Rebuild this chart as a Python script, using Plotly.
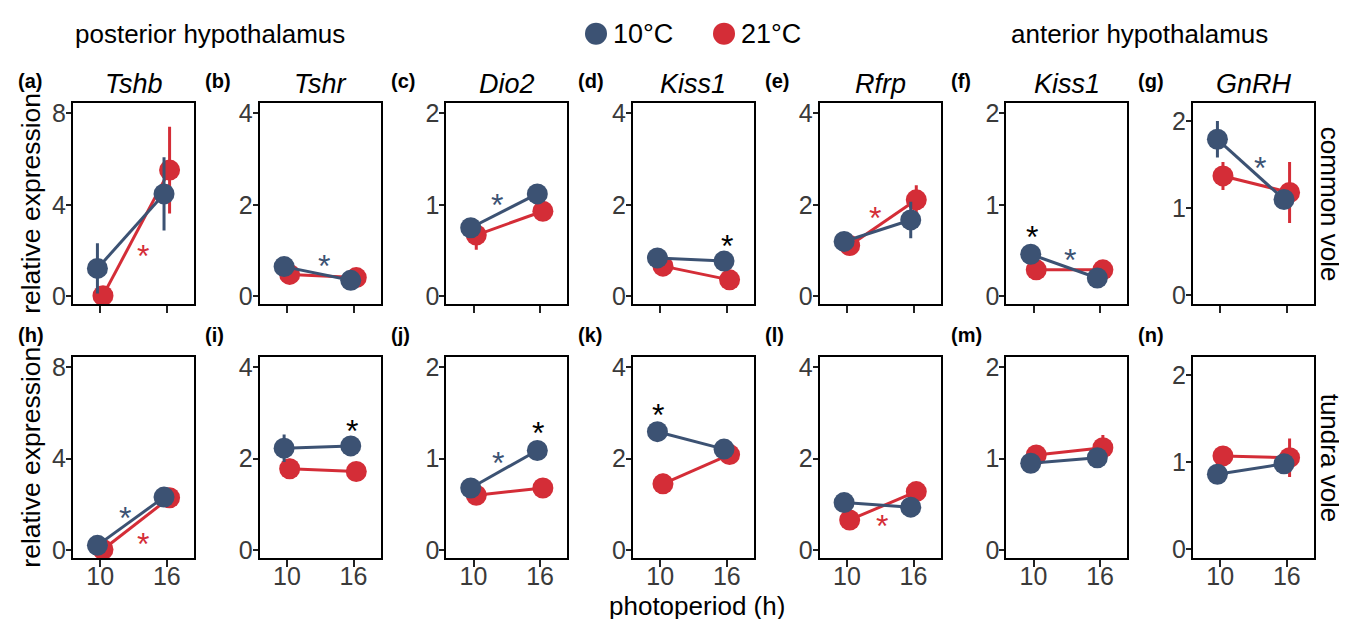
import plotly.graph_objects as go

# ---------------- data ----------------
photoperiod = [10, 16]
genes = ["Tshb", "Tshr", "Dio2", "Kiss1", "Rfrp", "Kiss1", "GnRH"]
letters_common = ["(a)", "(b)", "(c)", "(d)", "(e)", "(f)", "(g)"]
letters_tundra = ["(h)", "(i)", "(j)", "(k)", "(l)", "(m)", "(n)"]
species = ["common vole", "tundra vole"]
temps = ["10°C", "21°C"]

# means at 10 h and 16 h photoperiod
common_10C_mean = [[1.22, 4.48], [0.65, 0.35], [0.75, 1.12], [0.84, 0.77], [1.20, 1.67], [0.46, 0.20], [1.79, 1.10]]
common_10C_err = [[1.10, 1.60], [0.10, 0.08], [0.10, 0.05], [0.10, 0.10], [0.10, 0.40], [0.05, 0.05], [0.21, 0.10]]
common_21C_mean = [[0.03, 5.52], [0.48, 0.41], [0.67, 0.93], [0.66, 0.36], [1.11, 2.11], [0.29, 0.29], [1.37, 1.18]]
common_21C_err = [[0.20, 1.90], [0.10, 0.08], [0.16, 0.05], [0.10, 0.10], [0.10, 0.32], [0.03, 0.05], [0.16, 0.35]]

tundra_10C_mean = [[0.21, 2.32], [2.23, 2.28], [0.68, 1.09], [2.59, 2.21], [1.04, 0.94], [0.95, 1.01], [0.86, 0.98]]
tundra_10C_err = [[0.20, 0.20], [0.30, 0.10], [0.05, 0.05], [0.10, 0.10], [0.10, 0.10], [0.05, 0.05], [0.05, 0.10]]
tundra_21C_mean = [[0.03, 2.29], [1.78, 1.72], [0.60, 0.68], [1.45, 2.09], [0.66, 1.28], [1.04, 1.12], [1.07, 1.05]]
tundra_21C_err = [[0.20, 0.30], [0.22, 0.10], [0.07, 0.03], [0.22, 0.15], [0.10, 0.10], [0.10, 0.14], [0.06, 0.22]]

# significance stars: (panel index 0-13, x, y, group)
stars = [
    (0, 13.9, 2.11, "21"), (1, 13.3, 0.84, "10"), (2, 12.1, 1.09, "10"),
    (3, 16.0, 1.27, "both"), (4, 12.5, 1.88, "21"),
    (5, 9.85, 0.74, "both"), (5, 13.3, 0.49, "10"), (6, 13.6, 1.55, "10"),
    (7, 12.2, 1.75, "10"), (7, 13.9, 0.60, "21"), (8, 15.9, 2.78, "both"),
    (9, 12.2, 1.04, "10"), (9, 15.8, 1.37, "both"), (10, 9.8, 3.13, "both"),
    (11, 13.2, 0.70, "21"),
]

# y-axis tick values per column
col_ticks = [[0, 4, 8], [0, 2, 4], [0, 1, 2], [0, 2, 4], [0, 2, 4], [0, 1, 2], [0, 1, 2]]

# ---------------- styling ----------------
BLUE = "#3C5273"
RED = "#D42D37"
STAR_COL = {"10": BLUE, "21": RED, "both": "black"}
FONT = "Liberation Sans, Arial, Helvetica, sans-serif"
W, H = 1347, 619
DODGE = 0.25

panel_left = [65, 251.7, 438.3, 625, 811.7, 998.3, 1185]
panel_w = 121
row_top = [93, 351]
row_h = 204


def yrange(ticks, col):
    top = ticks[-1]
    if col == 6:
        return [-0.1, 2.2]
    return [-0.043 * top, 1.054 * top]


fig = go.Figure()
annotations = []
layout_axes = {}

rows = [
    (common_10C_mean, common_10C_err, common_21C_mean, common_21C_err),
    (tundra_10C_mean, tundra_10C_err, tundra_21C_mean, tundra_21C_err),
]

for r in range(2):
    m10, e10, m21, e21 = rows[r]
    for c in range(7):
        k = r * 7 + c + 1
        xa = "x" if k == 1 else f"x{k}"
        ya = "y" if k == 1 else f"y{k}"
        # red first so blue points sit on top
        for mean, err, col, off in [(m21[c], e21[c], RED, DODGE), (m10[c], e10[c], BLUE, -DODGE)]:
            fig.add_trace(go.Scatter(
                x=[p + off for p in photoperiod], y=mean,
                mode="lines+markers",
                line=dict(color=col, width=3),
                marker=dict(color=col, size=21),
                error_y=dict(type="data", array=err, color=col, thickness=3, width=0),
                xaxis=xa, yaxis=ya, showlegend=False, hoverinfo="skip",
            ))
        x0 = panel_left[c] / W
        x1 = (panel_left[c] + panel_w) / W
        y1 = 1 - row_top[r] / H
        y0 = 1 - (row_top[r] + row_h) / H
        ticks = col_ticks[c]
        layout_axes["xaxis" if k == 1 else f"xaxis{k}"] = dict(
            domain=[x0, x1], anchor=ya, range=[7.55, 18.45],
            tickvals=photoperiod, ticktext=[str(p) for p in photoperiod],
            showticklabels=(r == 1), ticks="outside", ticklen=7, tickwidth=2,
            tickcolor="#222", showline=True, linecolor="black", linewidth=2,
            mirror=True, showgrid=False, zeroline=False, ticklabelstandoff=-12,
            tickfont=dict(size=25, color="#3A3A3A", family=FONT),
        )
        layout_axes["yaxis" if k == 1 else f"yaxis{k}"] = dict(
            domain=[y0, y1], anchor=xa, range=yrange(ticks, c),
            tickvals=ticks, ticks="outside", ticklen=5, tickwidth=2,
            tickcolor="#222", showline=True, linecolor="black", linewidth=2,
            mirror=True, showgrid=False, zeroline=False, ticklabelstandoff=-5,
            tickfont=dict(size=25, color="#3A3A3A", family=FONT),
        )
        # panel letter
        letters = letters_common if r == 0 else letters_tundra
        annotations.append(dict(
            text=f"<b>{letters[c]}</b>", x=(panel_left[c] - 57) / W, y=1 - (row_top[r] - 23) / H,
            xref="paper", yref="paper", xanchor="left", yanchor="middle", showarrow=False,
            font=dict(size=20, color="black", family=FONT)))
        if r == 0:
            annotations.append(dict(
                text=f"<i>{genes[c]}</i>", x=(panel_left[c] + panel_w / 2) / W, y=1 - 73 / H,
                xref="paper", yref="paper", xanchor="center", yanchor="middle", showarrow=False,
                font=dict(size=27, color="black", family=FONT)))

for (p, sx, sy, grp) in stars:
    k = p + 1
    annotations.append(dict(
        text="*", x=sx, y=sy, xref="x" if k == 1 else f"x{k}", yref="y" if k == 1 else f"y{k}",
        xanchor="center", yanchor="middle", yshift=-8, showarrow=False,
        font=dict(size=32, color=STAR_COL[grp], family=FONT)))

# y-axis titles and strip labels
for r in range(2):
    cy = 1 - (row_top[r] + row_h / 2) / H
    annotations.append(dict(
        text="relative expression", x=23 / W, y=cy, xref="paper", yref="paper",
        xanchor="center", yanchor="middle", textangle=-90, showarrow=False,
        font=dict(size=26.5, color="black", family=FONT)))
    annotations.append(dict(
        text=species[r], x=1322 / W, y=cy, xref="paper", yref="paper",
        xanchor="center", yanchor="middle", textangle=90, showarrow=False,
        font=dict(size=26, color="black", family=FONT)))

annotations.append(dict(
    text="photoperiod (h)", x=689 / W, y=1 - 604 / H, xref="paper", yref="paper",
    xanchor="center", yanchor="middle", showarrow=False,
    font=dict(size=26, color="black", family=FONT)))
annotations.append(dict(
    text="posterior hypothalamus", x=202 / W, y=1 - 22 / H, xref="paper", yref="paper",
    xanchor="center", yanchor="middle", showarrow=False,
    font=dict(size=26, color="black", family=FONT)))
annotations.append(dict(
    text="anterior hypothalamus", x=1131 / W, y=1 - 22 / H, xref="paper", yref="paper",
    xanchor="center", yanchor="middle", showarrow=False,
    font=dict(size=26, color="black", family=FONT)))

# legend (manual)
shapes = []
for (cx, col, label) in [(588, BLUE, temps[0]), (716, RED, temps[1])]:
    shapes.append(dict(type="circle", xref="paper", yref="paper",
                       xsizemode="pixel", ysizemode="pixel",
                       xanchor=cx / W, yanchor=1 - 22 / H,
                       x0=-11, x1=11, y0=-11, y1=11,
                       fillcolor=col, line=dict(width=0)))
    annotations.append(dict(
        text=label, x=(cx + 15) / W, y=1 - 22 / H, xref="paper", yref="paper",
        xanchor="left", yanchor="middle", showarrow=False,
        font=dict(size=27, color="black", family=FONT)))

fig.update_layout(
    width=W, height=H, margin=dict(l=0, r=0, t=0, b=0),
    plot_bgcolor="white", paper_bgcolor="white",
    annotations=annotations, shapes=shapes, showlegend=False,
    **layout_axes,
)

fig.write_html("out.html")
